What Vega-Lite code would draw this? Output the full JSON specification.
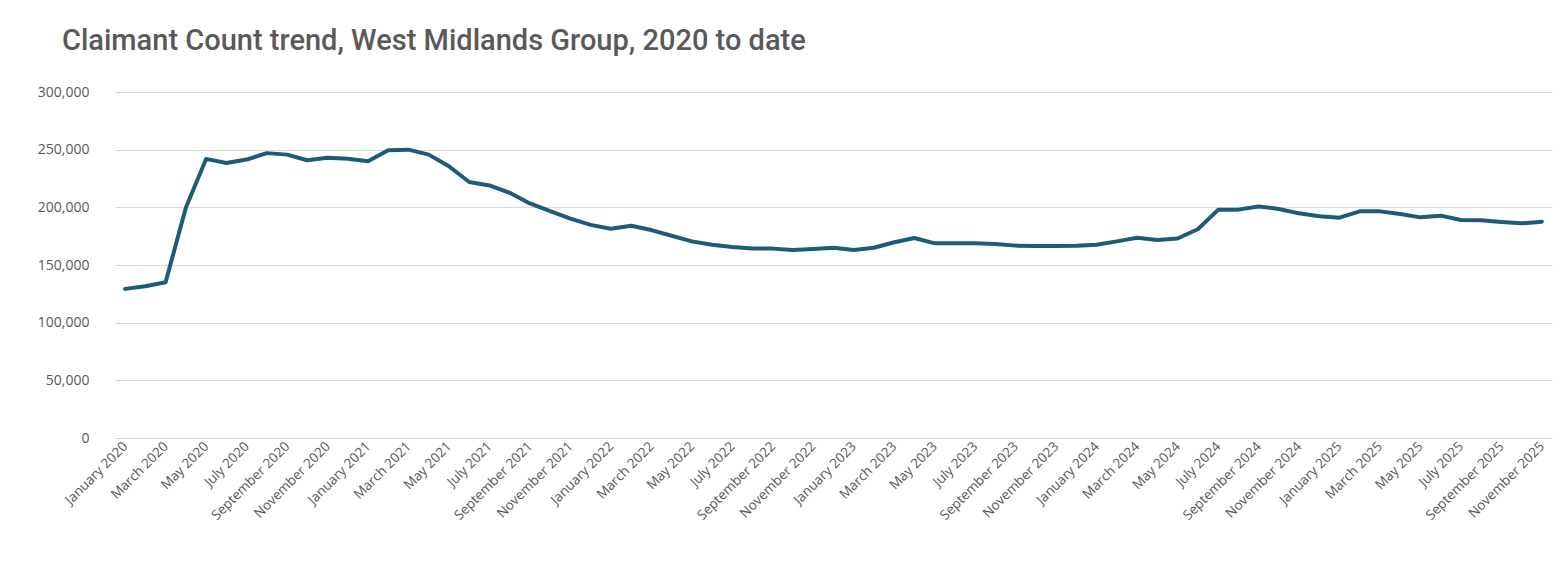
{
  "$schema": "https://vega.github.io/schema/vega-lite/v6.json",
  "autosize": "none",
  "width": 1437,
  "height": 346,
  "padding": {"left": 115, "top": 92, "right": 10, "bottom": 146},
  "background": "white",
  "title": {
    "text": "Claimant Count trend, West Midlands Group, 2020 to date",
    "anchor": "start",
    "frame": "group",
    "dx": -53,
    "offset": 29,
    "font": "Roboto",
    "fontSize": 29,
    "fontWeight": 500,
    "color": "#595959"
  },
  "data": {
    "values": [
      {"month": "January 2020", "count": 129300},
      {"month": "February 2020", "count": 131600},
      {"month": "March 2020", "count": 135000},
      {"month": "April 2020", "count": 199700},
      {"month": "May 2020", "count": 242000},
      {"month": "June 2020", "count": 238500},
      {"month": "July 2020", "count": 241400},
      {"month": "August 2020", "count": 247000},
      {"month": "September 2020", "count": 245700},
      {"month": "October 2020", "count": 240800},
      {"month": "November 2020", "count": 243000},
      {"month": "December 2020", "count": 242200},
      {"month": "January 2021", "count": 240000},
      {"month": "February 2021", "count": 249400},
      {"month": "March 2021", "count": 250000},
      {"month": "April 2021", "count": 245700},
      {"month": "May 2021", "count": 235600},
      {"month": "June 2021", "count": 222000},
      {"month": "July 2021", "count": 219000},
      {"month": "August 2021", "count": 212600},
      {"month": "September 2021", "count": 203400},
      {"month": "October 2021", "count": 196800},
      {"month": "November 2021", "count": 190200},
      {"month": "December 2021", "count": 184800},
      {"month": "January 2022", "count": 181400},
      {"month": "February 2022", "count": 184100},
      {"month": "March 2022", "count": 180300},
      {"month": "April 2022", "count": 175400},
      {"month": "May 2022", "count": 170500},
      {"month": "June 2022", "count": 167600},
      {"month": "July 2022", "count": 165600},
      {"month": "August 2022", "count": 164400},
      {"month": "September 2022", "count": 164200},
      {"month": "October 2022", "count": 163000},
      {"month": "November 2022", "count": 163900},
      {"month": "December 2022", "count": 165000},
      {"month": "January 2023", "count": 163000},
      {"month": "February 2023", "count": 165000},
      {"month": "March 2023", "count": 169700},
      {"month": "April 2023", "count": 173400},
      {"month": "May 2023", "count": 168800},
      {"month": "June 2023", "count": 168800},
      {"month": "July 2023", "count": 168800},
      {"month": "August 2023", "count": 168200},
      {"month": "September 2023", "count": 166800},
      {"month": "October 2023", "count": 166500},
      {"month": "November 2023", "count": 166500},
      {"month": "December 2023", "count": 166600},
      {"month": "January 2024", "count": 167600},
      {"month": "February 2024", "count": 170500},
      {"month": "March 2024", "count": 173700},
      {"month": "April 2024", "count": 171700},
      {"month": "May 2024", "count": 173000},
      {"month": "June 2024", "count": 181000},
      {"month": "July 2024", "count": 197800},
      {"month": "August 2024", "count": 198000},
      {"month": "September 2024", "count": 200800},
      {"month": "October 2024", "count": 198600},
      {"month": "November 2024", "count": 194800},
      {"month": "December 2024", "count": 192200},
      {"month": "January 2025", "count": 191000},
      {"month": "February 2025", "count": 196500},
      {"month": "March 2025", "count": 196500},
      {"month": "April 2025", "count": 194200},
      {"month": "May 2025", "count": 191300},
      {"month": "June 2025", "count": 192800},
      {"month": "July 2025", "count": 189000},
      {"month": "August 2025", "count": 188700},
      {"month": "September 2025", "count": 187300},
      {"month": "October 2025", "count": 186100},
      {"month": "November 2025", "count": 187600}
    ]
  },
  "mark": {"type": "line", "color": "#1d5b79", "strokeWidth": 4, "strokeJoin": "round", "strokeCap": "round"},
  "encoding": {
    "x": {
      "field": "month",
      "type": "ordinal",
      "sort": null,
      "scale": {"type": "point", "padding": 0.5},
      "axis": {
        "title": null,
        "values": ["January 2020", "March 2020", "May 2020", "July 2020", "September 2020", "November 2020", "January 2021", "March 2021", "May 2021", "July 2021", "September 2021", "November 2021", "January 2022", "March 2022", "May 2022", "July 2022", "September 2022", "November 2022", "January 2023", "March 2023", "May 2023", "July 2023", "September 2023", "November 2023", "January 2024", "March 2024", "May 2024", "July 2024", "September 2024", "November 2024", "January 2025", "March 2025", "May 2025", "July 2025", "September 2025", "November 2025"],
        "labelAngle": -45,
        "labelAlign": "right",
        "labelBaseline": "middle",
        "labelPadding": 6,
        "labelFont": "Open Sans",
        "labelFontSize": 13.5,
        "labelColor": "#595959",
        "labelOverlap": false,
        "domain": false,
        "ticks": false,
        "grid": false
      }
    },
    "y": {
      "field": "count",
      "type": "quantitative",
      "scale": {"domain": [0, 300000], "nice": false},
      "axis": {
        "title": null,
        "values": [0, 50000, 100000, 150000, 200000, 250000, 300000],
        "format": ",.0f",
        "labelFont": "Open Sans",
        "labelFontSize": 14,
        "labelColor": "#595959",
        "labelPadding": 26,
        "domain": false,
        "ticks": false,
        "grid": true,
        "gridColor": "#d9d9d9",
        "gridWidth": 1
      }
    }
  },
  "config": {"view": {"stroke": null}}
}
